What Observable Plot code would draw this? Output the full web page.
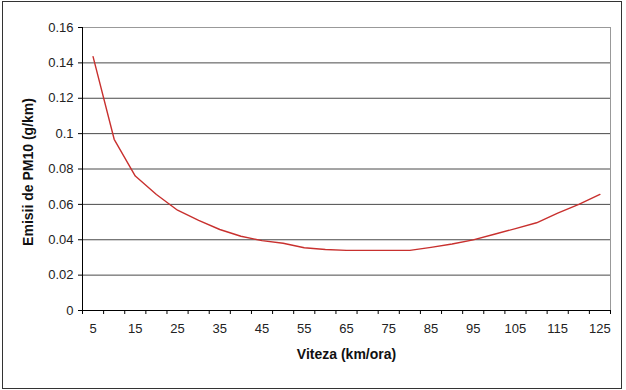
<!DOCTYPE html>
<html>
<head>
<meta charset="utf-8">
<script src="https://cdn.jsdelivr.net/npm/d3@7"></script>
<script src="https://cdn.jsdelivr.net/npm/@observablehq/plot@0.6"></script>
<style>
  body { margin: 0; background: #fff; }
  #wrap { position: relative; width: 626px; height: 390px; }
  #border { position: absolute; left: 2px; top: 1px; width: 618px; height: 386px; border: 1px solid #333; pointer-events: none; }
</style>
</head>
<body>
<div id="wrap"><div id="border"></div></div>
<script>
const speeds = [5, 10, 15, 20, 25, 30, 35, 40, 45, 50, 55, 60, 65, 70, 75, 80, 85, 90, 95, 100, 105, 110, 115, 120, 125];
const pm10 = [0.1435, 0.0968, 0.076, 0.0656, 0.0567, 0.051, 0.0458, 0.042, 0.0395, 0.038, 0.0355, 0.0345, 0.034, 0.034, 0.034, 0.034, 0.0357, 0.0376, 0.0399, 0.0431, 0.0463, 0.0496, 0.055, 0.060, 0.0656];
const xLabels = [5, 15, 25, 35, 45, 55, 65, 75, 85, 95, 105, 115, 125];
const xTickMarks = [2.5, 7.5, 12.5, 17.5, 22.5, 27.5, 32.5, 37.5, 42.5, 47.5, 52.5, 57.5, 62.5, 67.5, 72.5, 77.5, 82.5, 87.5, 92.5, 97.5, 102.5, 107.5, 112.5, 117.5, 122.5, 127.5];
const yTicks = [0, 0.02, 0.04, 0.06, 0.08, 0.1, 0.12, 0.14, 0.16];
const yGrid = [0.02, 0.04, 0.06, 0.08, 0.1, 0.12, 0.14];
const xTitle = "Viteza (km/ora)";
const yTitle = "Emisii de PM10 (g/km)";

const data = speeds.map((s, i) => ({speed: s, value: pm10[i]}));

const chart = Plot.plot({
  width: 626,
  height: 390,
  marginLeft: 82,
  marginRight: 16,
  marginTop: 27,
  marginBottom: 80,
  style: {fontFamily: "'Liberation Sans', Arial, sans-serif", fontSize: "13px", color: "#222", background: "transparent"},
  x: {domain: [2.5, 127.5], axis: null},
  y: {domain: [0, 0.16], axis: null},
  marks: [
    Plot.ruleY(yGrid, {stroke: "#4a4a4a", strokeWidth: 1}),
    Plot.ruleY([0.16], {stroke: "#999", strokeWidth: 1}),
    Plot.ruleX([127.5], {stroke: "#999", strokeWidth: 1}),
    Plot.axisY({ticks: yTicks, tickSize: 4, tickPadding: 5, tickFormat: d => String(d), label: null, stroke: "#000", fontSize: 13}),
    Plot.axisX({ticks: xTickMarks, tickSize: 4, tickFormat: () => "", label: null, stroke: "#000"}),
    Plot.axisX({ticks: xLabels, tickSize: 0, tickPadding: 13, tickFormat: d => String(d), label: null, fontSize: 13}),
    Plot.ruleX([2.5], {stroke: "#000", strokeWidth: 1}),
    Plot.ruleY([0], {stroke: "#000", strokeWidth: 1}),
    Plot.line(data, {x: "speed", y: "value", stroke: "#c8302e", strokeWidth: 1.4}),
    Plot.text([yTitle], {frameAnchor: "left", textAnchor: "middle", rotate: -90, dx: -54, dy: 3, fontWeight: "bold", fontSize: 14, fill: "#111"}),
    Plot.text([xTitle], {frameAnchor: "bottom", dy: 48, fontWeight: "bold", fontSize: 14, fill: "#111"})
  ]
});
document.getElementById("wrap").prepend(chart);
</script>
</body>
</html>
